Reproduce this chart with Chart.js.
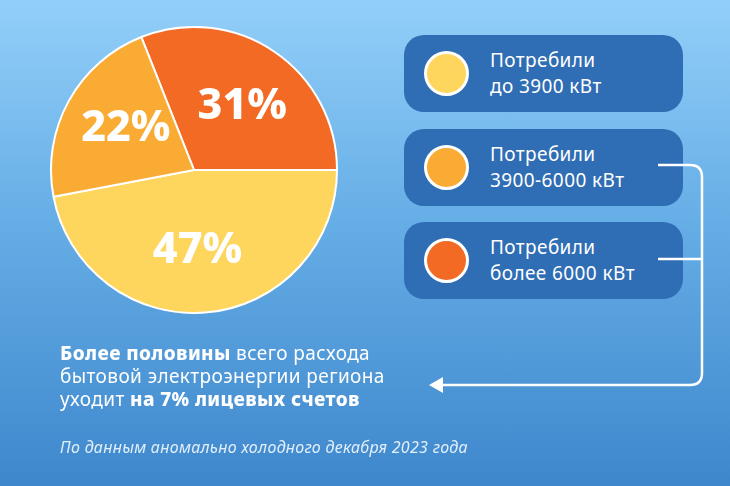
<!DOCTYPE html>
<html>
<head>
<meta charset="utf-8">
<script src="https://cdn.jsdelivr.net/npm/chart.js@4.4.0/dist/chart.umd.min.js"></script>
<style>
  html, body { margin: 0; padding: 0; }
  body {
    width: 730px; height: 486px; overflow: hidden; position: relative;
    background: linear-gradient(180deg, #93cff9 0%, #66aee6 45%, #3e87cc 100%);
    font-family: "Noto Sans", sans-serif; color: #fff;
  }
  #pieBox { position: absolute; left: 50px; top: 26px; width: 288px; height: 288px; }
  .item {
    position: absolute; left: 404px; width: 279px; height: 77px;
    background: #2f6db4; border-radius: 20px;
  }
  .dot {
    position: absolute; left: 20px; top: 16px; width: 39px; height: 39px;
    border: 3px solid #fff; border-radius: 50%;
  }
  .item .txt {
    position: absolute; left: 86px; top: 12px; font-size: 19px; line-height: 26px; letter-spacing: 0.4px;
  }
  #note { position: absolute; left: 60px; top: 342px; font-size: 19px; line-height: 23px; letter-spacing: 0.4px; }
  #note b { font-weight: 800; }
  #src { position: absolute; left: 60px; top: 436px; font-size: 16px; font-style: italic; color: #e2effa; letter-spacing: 0.3px; }
  svg { position: absolute; left: 0; top: 0; }
</style>
</head>
<body>
<div id="pieBox"><canvas id="myChart"></canvas></div>
<div id="legend"></div>
<svg width="730" height="486">
  <path d="M658 165 H690 Q702 165 702 177 V373 Q702 385 690 385 H440" fill="none" stroke="#fff" stroke-width="2.5"/>
  <path d="M658 259 H702" fill="none" stroke="#fff" stroke-width="2.5"/>
  <path d="M429 385 L443 377 L443 393 Z" fill="#fff"/>
</svg>
<div id="note"><b>Более половины</b> всего расхода<br>бытовой электроэнергии региона<br>уходит <b>на 7% лицевых счетов</b></div>
<div id="src">По данным аномально холодного декабря 2023 года</div>
<script>
// pie slices, clockwise from the top
const sliceLabels = ["более 6000 кВт", "до 3900 кВт", "3900-6000 кВт"];
const sliceValues = [31, 47, 22];
const sliceColors = ["#f26a24", "#fed65e", "#faab34"];

// legend rows, top to bottom
const legendLabels = ["до 3900 кВт", "3900-6000 кВт", "более 6000 кВт"];
const legendColors = ["#fed65e", "#faab34", "#f26a24"];

// legend boxes
let legend = document.getElementById("legend");
legendLabels.forEach((lab, i) => {
  let el = document.createElement("div");
  el.className = "item";
  el.style.top = (35 + i * 93.5) + "px";
  el.innerHTML = `<div class="dot" style="background:${legendColors[i]}"></div>` +
    `<div class="txt">Потребили<br>${lab}</div>`;
  legend.appendChild(el);
});

// percent labels inside the slices
const pctLabels = {
  id: "pctLabels",
  afterDatasetsDraw(chart) {
    let ctx = chart.ctx;
    let meta = chart.getDatasetMeta(0);
    ctx.save();
    ctx.fillStyle = "#fff";
    ctx.font = "800 43px 'Noto Sans'";
    ctx.textAlign = "center";
    ctx.textBaseline = "middle";
    meta.data.forEach((arc, i) => {
      // nudge a bit clockwise, as on the original
      let mid = (arc.startAngle + arc.endAngle) / 2 + 0.05;
      let r = arc.outerRadius * 0.56;
      ctx.fillText(sliceValues[i] + "%", arc.x + Math.cos(mid) * r, arc.y + Math.sin(mid) * r + 1);
    });
    ctx.restore();
  }
};

new Chart(document.getElementById("myChart"), {
  type: "pie",
  data: {
    labels: sliceLabels,
    datasets: [{
      data: sliceValues,
      backgroundColor: sliceColors,
      borderColor: "#fff",
      borderWidth: 2
    }]
  },
  options: {
    responsive: true,
    maintainAspectRatio: false,
    animation: false,
    rotation: -21.6,
    layout: { padding: 0 },
    plugins: { legend: { display: false }, tooltip: { enabled: false } }
  },
  plugins: [pctLabels]
});
</script>
</body>
</html>
